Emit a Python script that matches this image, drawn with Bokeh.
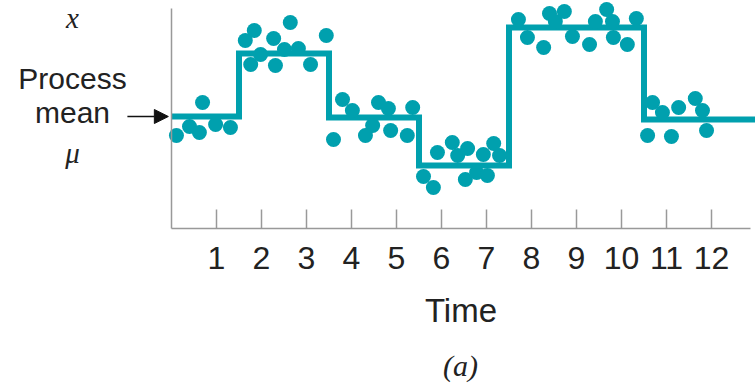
from bokeh.plotting import figure
from bokeh.models import FixedTicker, Label, Arrow, NormalHead, Range1d, LinearAxis
from bokeh.embed import file_html
from bokeh.resources import INLINE

# Process mean over time: period boundaries and the mean level in each period
seg_edges = [0, 1.5, 3.5, 5.5, 7.5, 10.5, 13.5]
seg_means = [10.0, 13.15, 9.95, 7.55, 14.45, 9.85]
mu = 10.0

# Individual observations (time, measured value)
obs_time = [0.11, 0.40, 0.62, 0.69, 0.98, 1.31,
            1.64, 1.84, 1.76, 1.98, 2.27, 2.31, 2.51, 2.64, 2.82, 3.09, 3.44,
            3.80, 4.02, 3.60, 4.60, 4.82, 4.47, 4.31, 4.87, 5.24, 5.36,
            5.60, 5.82, 5.91, 6.24, 6.36, 6.58, 6.53, 6.78, 6.93, 7.02, 7.16, 7.29,
            7.71, 7.91, 8.27, 8.40, 8.53, 8.73, 8.91, 9.29, 9.42, 9.67, 9.80, 9.82, 10.13, 10.33,
            10.69, 10.91, 10.58, 11.11, 11.27, 11.64, 11.80, 11.89]
obs_value = [9.05, 9.5, 9.2, 10.7, 9.6, 9.45,
             13.8, 14.3, 12.6, 13.1, 13.9, 12.55, 13.35, 14.7, 13.4, 12.6, 14.05,
             10.85, 10.3, 8.85, 10.7, 10.4, 9.55, 9.05, 9.3, 9.05, 10.45,
             7.0, 6.45, 8.2, 8.7, 8.05, 8.4, 6.85, 7.2, 8.1, 7.05, 8.65, 8.05,
             14.85, 13.95, 13.45, 15.15, 14.75, 15.25, 14.0, 13.6, 14.75, 15.35, 14.75, 13.95, 13.6, 14.9,
             10.7, 10.2, 9.05, 9.0, 10.45, 10.9, 10.3, 9.3]

time_ticks = list(range(1, 13))

TEAL = "#00a0ae"
AXIS_GREY = "#999999"
INK = "#222222"
SANS = "Liberation Sans"
SERIF = "Liberation Serif"

# The plotting area spans the whole canvas; axes sit at fixed data positions
p = figure(width=755, height=383, output_backend="svg", toolbar_location=None,
           x_range=Range1d(-3.8, 12.978), y_range=Range1d(-3.35, 15.8),
           x_axis_location=None, y_axis_location=None, min_border=0)
p.outline_line_color = None
p.xgrid.visible = False
p.ygrid.visible = False

# step line for the process mean
step_x, step_y = [], []
for i, m in enumerate(seg_means):
    step_x += [seg_edges[i], seg_edges[i + 1]]
    step_y += [m, m]
p.line(step_x, step_y, line_color=TEAL, line_width=6, line_join="miter")

p.scatter(obs_time, obs_value, size=15, fill_color=TEAL, line_color=None)

# x axis along the bottom of the data area
xa = LinearAxis(fixed_location=4.4)
xa.ticker = FixedTicker(ticks=time_ticks, minor_ticks=[])
xa.bounds = (0, 12.87)
xa.axis_line_color = AXIS_GREY
xa.axis_line_width = 1.5
xa.major_tick_line_color = AXIS_GREY
xa.major_tick_line_width = 1.5
xa.major_tick_in = 19
xa.major_tick_out = 0
xa.minor_tick_line_color = None
xa.major_label_text_font = SANS
xa.major_label_text_font_size = "32px"
xa.major_label_text_color = INK
xa.major_label_standoff = 18
xa.axis_label = "Time"
xa.axis_label_text_font = SANS
xa.axis_label_text_font_size = "33px"
xa.axis_label_text_font_style = "normal"
xa.axis_label_text_color = INK
xa.axis_label_standoff = 20
p.add_layout(xa, "below")

# y axis: bare line at time zero
ya = LinearAxis(fixed_location=0)
ya.ticker = FixedTicker(ticks=[])
ya.bounds = (4.4, 15.4)
ya.axis_line_color = AXIS_GREY
ya.axis_line_width = 1.5
ya.major_tick_line_color = None
ya.minor_tick_line_color = None
ya.major_label_text_font_size = "0px"
p.add_layout(ya, "left")

# left-hand annotation
lx = -2.2
p.add_layout(Label(x=lx, y=14.95, text="x", text_align="center", text_baseline="alphabetic",
                   text_font=SERIF, text_font_style="italic", text_font_size="29px",
                   text_color=INK))
p.add_layout(Label(x=lx, y=11.9, text="Process", text_align="center", text_baseline="alphabetic",
                   text_font=SANS, text_font_size="30px", text_color=INK))
p.add_layout(Label(x=lx, y=10.2, text="mean", text_align="center", text_baseline="alphabetic",
                   text_font=SANS, text_font_size="30px", text_color=INK))
p.add_layout(Label(x=lx, y=8.2, text="μ", text_align="center", text_baseline="alphabetic",
                   text_font=SERIF, text_font_style="italic", text_font_size="29px",
                   text_color=INK))
p.add_layout(Arrow(x_start=-0.98, y_start=mu, x_end=-0.07, y_end=mu, line_color="#111111",
                   line_width=1.5,
                   end=NormalHead(size=14, fill_color="#111111", line_color="#111111")))

# panel tag
p.add_layout(Label(x=6.42, y=-2.45, text="(a)", text_align="center", text_baseline="alphabetic",
                   text_font=SERIF, text_font_style="italic", text_font_size="30px",
                   text_color=INK))

open("out.html", "w").write(file_html(p, INLINE))
